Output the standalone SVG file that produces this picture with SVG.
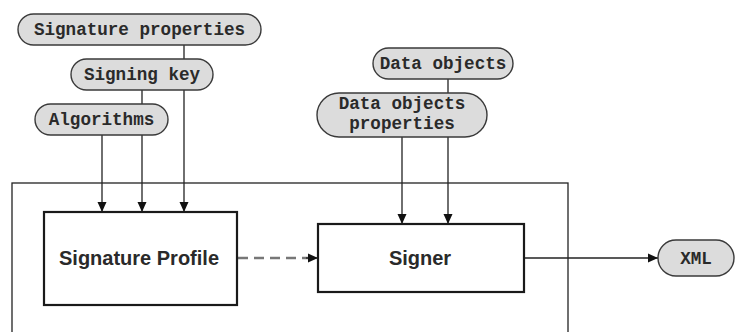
<svg xmlns="http://www.w3.org/2000/svg" width="736" height="332" viewBox="0 0 736 332">
<defs>
<style>
.pill{fill:#dcdcdc;stroke:#3a3a3a;stroke-width:1.4}
.mono{font-family:"Liberation Mono","Courier New",monospace;font-weight:bold;font-size:17.6px;fill:#2a2a2a;text-anchor:middle}
.box{fill:#fff;stroke:#1a1a1a;stroke-width:2.2}
.lbl{font-family:"Liberation Sans",Arial,sans-serif;font-weight:bold;font-size:20px;fill:#2a2a2a;text-anchor:middle}
.ln{fill:none;stroke:#222;stroke-width:1.3}
.dash{fill:none;stroke:#777;stroke-width:2.4;stroke-dasharray:10 6}
</style>
<marker id="ah" viewBox="0 0 10 10" refX="10" refY="5" markerWidth="10" markerHeight="10" markerUnits="userSpaceOnUse" orient="auto">
<path d="M0,0.5 L10,5 L0,9.5 Z" fill="#111"/>
</marker>
</defs>
<rect x="0" y="0" width="736" height="332" fill="#fff"/>
<rect id="frame" x="12" y="183" width="556" height="170" fill="none" stroke="#222" stroke-width="1.3"/>
<g id="connectors">
<line class="ln" x1="102" y1="135" x2="102" y2="212" marker-end="url(#ah)"/>
<line class="ln" x1="142" y1="90" x2="142" y2="212" marker-end="url(#ah)"/>
<line class="ln" x1="184" y1="45" x2="184" y2="212" marker-end="url(#ah)"/>
<line class="ln" x1="402" y1="137" x2="402" y2="224" marker-end="url(#ah)"/>
<line class="ln" x1="448" y1="79" x2="448" y2="224" marker-end="url(#ah)"/>
<line class="dash" x1="238" y1="258" x2="310" y2="258"/>
<line class="ln" x1="306" y1="258" x2="318" y2="258" marker-end="url(#ah)"/>
<line class="ln" x1="524" y1="258" x2="658" y2="258" marker-end="url(#ah)"/>
</g>
<g id="sigprops">
<rect class="pill" x="18" y="14" width="243" height="31" rx="15.5"/>
<text class="mono" x="139.5" y="35">Signature properties</text>
</g>
<g id="signingkey">
<rect class="pill" x="71" y="59" width="142" height="31" rx="15.5"/>
<text class="mono" x="142" y="80">Signing key</text>
</g>
<g id="algorithms">
<rect class="pill" x="35" y="104" width="133" height="31" rx="15.5"/>
<text class="mono" x="101.5" y="125">Algorithms</text>
</g>
<g id="dataobjects">
<rect class="pill" x="373" y="48" width="140" height="31" rx="15.5"/>
<text class="mono" x="443" y="69">Data objects</text>
</g>
<g id="dataprops">
<rect class="pill" x="317" y="93" width="170" height="44" rx="22"/>
<text class="mono" x="402" y="109">Data objects</text>
<text class="mono" x="402" y="129">properties</text>
</g>
<g id="sigprofile">
<rect class="box" x="44" y="212" width="193" height="93"/>
<text class="lbl" x="139" y="265">Signature Profile</text>
</g>
<g id="signer">
<rect class="box" x="318" y="224" width="206" height="68"/>
<text class="lbl" x="420" y="265">Signer</text>
</g>
<g id="xml">
<rect class="pill" x="658" y="240" width="76" height="36" rx="18"/>
<text class="mono" x="696" y="264">XML</text>
</g>
</svg>
